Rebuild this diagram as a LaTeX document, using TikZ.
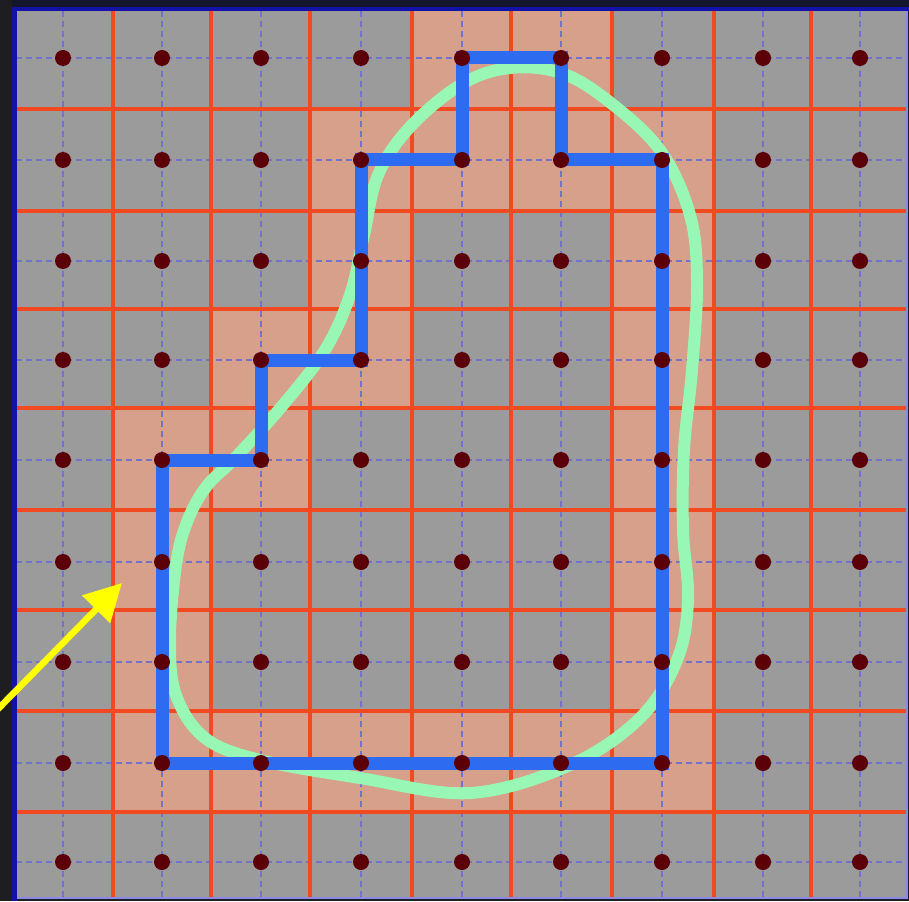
\documentclass[tikz,border=0pt]{standalone}
\usetikzlibrary{arrows.meta}
\definecolor{darkstrip}{HTML}{1E1E22}
\definecolor{topstrip}{HTML}{14162E}
\definecolor{frameblue}{HTML}{1212A6}
\definecolor{framelight}{HTML}{8A8AE6}
\definecolor{cellgray}{HTML}{9B9B9B}
\definecolor{cellpink}{HTML}{D7A08A}
\definecolor{gridred}{HTML}{F24A20}
\definecolor{dashblue}{HTML}{7272CC}
\definecolor{curvegreen}{HTML}{98F7B4}
\definecolor{polyblue}{HTML}{2D6BF0}
\definecolor{dotred}{HTML}{5C0008}
\definecolor{arrowyellow}{HTML}{FFFF00}
\tikzset{
  pinkcell/.style={fill=cellpink},
  redline/.style={draw=gridred, line width=3.5pt},
  dashline/.style={draw=dashblue, line width=1.5pt, dash pattern=on 6pt off 4pt},
  curvestyle/.style={draw=curvegreen, line width=12pt},
  polystyle/.style={draw=polyblue, line width=13pt, line join=miter},
  dotstyle/.style={fill=dotred},
  arrowstyle/.style={draw=arrowyellow, line width=6.5pt, -{Triangle[length=37pt,width=38pt]}}
}
\begin{document}
\begin{tikzpicture}[x=1pt,y=-1pt]
\useasboundingbox (0,0) rectangle (909,901);
% background strips
\fill[darkstrip] (0,0) rectangle (909,901);
\fill[topstrip] (12,0) rectangle (909,7);
\fill[cellgray] (16,11) rectangle (907,898);
% pink cells
\fill[pinkcell] (412,11) rectangle (612,109);
\fill[pinkcell] (310,109) rectangle (714,211);
\fill[pinkcell] (310,211) rectangle (412,309);
\fill[pinkcell] (612,211) rectangle (714,309);
\fill[pinkcell] (211,309) rectangle (412,408);
\fill[pinkcell] (612,309) rectangle (714,408);
\fill[pinkcell] (113,408) rectangle (310,510);
\fill[pinkcell] (612,408) rectangle (714,510);
\fill[pinkcell] (113,510) rectangle (211,711);
\fill[pinkcell] (612,510) rectangle (714,711);
\fill[pinkcell] (113,711) rectangle (714,812);
% dashed lines through dots
\foreach \y in {58,160,261,360,460,562,662,763,862}
  \draw[dashline] (16,\y) -- (907,\y);
\foreach \x in {63,162,261,361,462,561,662,763,860}
  \draw[dashline] (\x,11) -- (\x,898);
% red grid lines
\foreach \x in {113,211,310,412,511,612,714,811}
  \draw[redline] (\x,11) -- (\x,898);
\foreach \y in {109,211,309,408,510,610,711,812}
  \draw[redline] (16,\y) -- (907,\y);
% frame
\draw[framelight, line width=2pt] (16,898) -- (907,898) -- (907,11);
\fill[frameblue] (12,7) rectangle (909,11);
\fill[frameblue] (12,7) rectangle (17,901);
% dot coordinates
\foreach \x [count=\i from 0] in {63,162,261,361,462,561,662,763,860}
  \foreach \y [count=\j from 0] in {58,160,261,360,460,562,662,763,862}
    \coordinate (d\i\j) at (\x,\y);
% green curve
\draw[curvestyle] plot[smooth cycle, tension=0.6] coordinates {
  (462,84) (510,68) (561,73) (607,100) (660,150) (690,215) (697,283)
  (692,370) (684,450) (683,530) (688,600) (677,660) (640,718)
  (570,765) (470,793) (360,778) (260,760) (205,738) (176,695)
  (170,640) (176,565) (187,522) (206,487) (235,458) (283,405)
  (325,350) (350,295) (364,235) (378,175) (410,127)};
% blue polygon
\draw[polystyle] (d40) -- (d50) -- (d51) -- (d61) -- (d67) -- (d17)
  -- (d14) -- (d24) -- (d23) -- (d33) -- (d31) -- (d41) -- cycle;
% dots
\foreach \i in {0,...,8}
  \foreach \j in {0,...,8}
    \fill[dotstyle] (d\i\j) circle (8pt);
% yellow arrow
\coordinate (arrowtail) at (-4,711);
\coordinate (arrowtip) at (122,583);
\draw[arrowstyle] (arrowtail) -- (arrowtip);
\end{tikzpicture}
\end{document}
